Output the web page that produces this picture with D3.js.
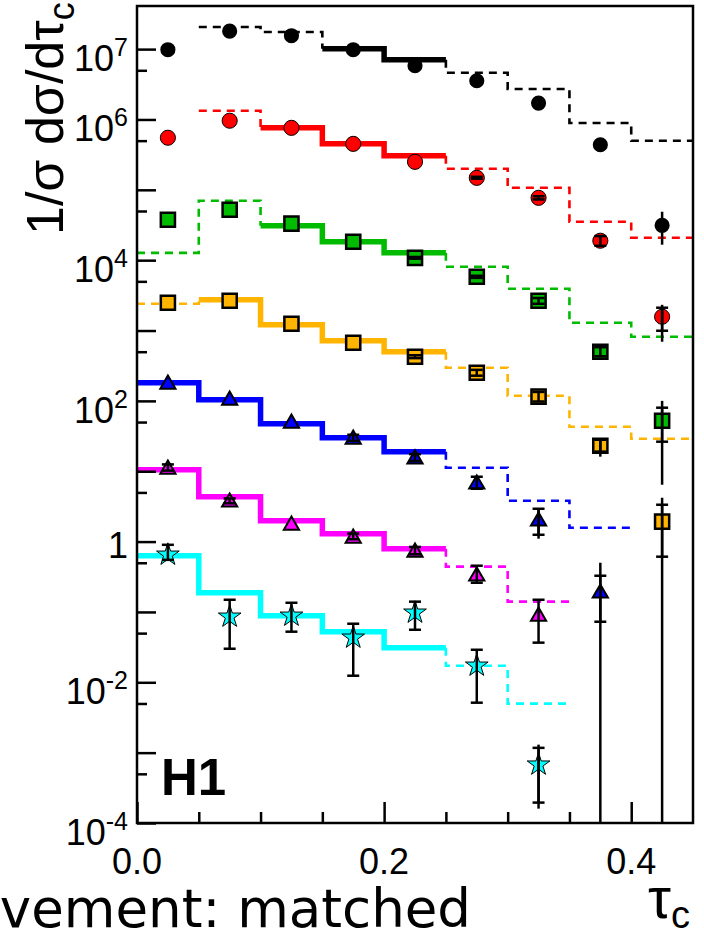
<!DOCTYPE html>
<html>
<head>
<meta charset="utf-8">
<script src="https://cdn.jsdelivr.net/npm/d3@7"></script>
<style>
  body { margin: 0; background: #fff; }
  svg { display: block; }
</style>
</head>
<body>
<svg id="chart" width="704" height="938"></svg>
<script>
// tau_c bins
const binEdges = [0, 0.05, 0.1, 0.15, 0.2, 0.25, 0.3, 0.35, 0.4, 0.45];
const binCenters = [0.025, 0.075, 0.125, 0.175, 0.225, 0.275, 0.325, 0.375, 0.425];

// measured points (already scaled per Q2 bin), prediction histograms, solid range
const blackPts  = [9.8e6, 1.8e7, 1.55e7, 9.8e6, 5.8e6, 3.55e6, 1.71e6, 4.37e5, 3.13e4];
const blackHist = [null, 2.06e7, 1.75e7, 1.01e7, 7.06e6, 4.61e6, 2.71e6, 8.89e5, 4.98e5];
const blackSolid = [3, 4];
const blackStat = [null, null, null, null, null, null, null, null, null];
const blackTot  = [null, null, null, null, null, null, null, null, [1.66e4, 4.88e4]];

const redPts  = [5.5e5, 9.6e5, 7.6e5, 4.5e5, 2.5e5, 1.48e5, 7.7e4, 1.89e4, 1.57e3];
const redHist = [null, 1.33e6, 7.62e5, 4.52e5, 3.05e5, 1.99e5, 1.07e5, 3.52e4, 2.08e4];
const redSolid = [2, 4];
const redStat = [null, null, null, null, null, [1.44e5, 1.53e5], [7.3e4, 8.1e4], [1.6e4, 2.2e4], [993, 2.11e3]];
const redTot  = [null, null, null, null, null, null, null, null, [693, 2.32e3]];

const greenPts  = [3.76e4, 5.2e4, 3.3e4, 1.83e4, 1.08e4, 5.81e3, 2.65e3, 499, 52.2];
const greenHist = [1.27e4, 7.0e4, 3.08e4, 1.83e4, 1.27e4, 8.06e3, 3.92e3, 1.29e3, 816];
const greenSolid = [2, 4];
const greenStat = [null, null, null, null, [1.05e4, 1.11e4], [5.6e3, 6.0e3], [2.4e3, 2.9e3], [430, 580], [26.3, 80]];
const greenTot  = [null, null, null, null, null, null, null, null, [6.43, 100]];

const orangePts  = [2.48e3, 2.65e3, 1.25e3, 670, 424, 251, 115, 23, 1.92];
const orangeHist = [2.4e3, 2.74e3, 1.21e3, 716, 499, 296, 118, 42.9, 29];
const orangeSolid = [1, 4];
const orangeStat = [null, null, null, null, [405, 445], [228, 276], [98, 134], [19, 28], [0.61, 3.34]];
const orangeTot  = [null, null, null, null, null, null, null, [16.1, 28], [1e-6, 4.2]];

const bluePts  = [181, 107, 50.5, 29.9, 15.6, 6.87, 2.05, 0.194, null];
const blueHist = [181, 104, 47.3, 29.9, 18.9, 11.2, 3.81, 1.57, null];
const blueSolid = [0, 4];
const blueStat = [null, null, null, [27, 33], [14, 17.5], [5.64, 8.35], [1.25, 2.93], [0.0726, 0.327], null];
const blueTot  = [null, null, null, null, null, null, [1.1, 2.93], [1e-6, 0.5], null];

const magentaPts  = [11.2, 3.81, 1.79, 1.17, 0.74, 0.338, 0.091, null, null];
const magentaHist = [10.5, 4.34, 1.98, 1.29, 0.79, 0.44, 0.14, null, null];
const magentaSolid = [0, 4];
const magentaStat = [[10.2, 12.5], [3.5, 4.1], null, [1.08, 1.3], [0.66, 0.84], [0.26, 0.454], [0.0366, 0.149], null, null];
const magentaTot  = [null, null, null, null, null, null, null, null, null];

const cyanPts  = [0.65, 0.0855, 0.0883, 0.043, 0.0975, 0.0172, 6.75e-4, null, null];
const cyanHist = [0.63, 0.1875, 0.0883, 0.0524, 0.031, 0.0172, 0.00497, null, null];
const cyanSolid = [0, 4];
const cyanStat = [[0.55, 0.9], [0.03, 0.149], [0.0524, 0.135], [0.0124, 0.068], [0.0558, 0.14], [0.00513, 0.029], [1.95e-4, 1.17e-3], null, null];
const cyanTot  = [null, null, null, null, null, null, [1.6e-4, 1.3e-3], null, null];

// axis ticks
const yMajor = [1e-4, 1e-3, 1e-2, 1e-1, 1, 10, 100, 1e3, 1e4, 1e5, 1e6, 1e7];
const yMinor = [5e-4, 5e-3, 5e-2, 5e-1, 5, 50, 500, 5e3, 5e4, 5e5, 5e6];
const yLabelExp = [7, 6, 4, 2, 0, -2, -4];
const xMajor = [0, 0.2, 0.4];
const xMinor = [0.05, 0.1, 0.15, 0.25, 0.3, 0.35];
const xLabels = ['0.0', '0.2', '0.4'];

const series = [
    {pts: blackPts, hist: blackHist, solid: blackSolid, stat: blackStat, tot: blackTot},
    {pts: redPts, hist: redHist, solid: redSolid, stat: redStat, tot: redTot},
    {pts: greenPts, hist: greenHist, solid: greenSolid, stat: greenStat, tot: greenTot},
    {pts: orangePts, hist: orangeHist, solid: orangeSolid, stat: orangeStat, tot: orangeTot},
    {pts: bluePts, hist: blueHist, solid: blueSolid, stat: blueStat, tot: blueTot},
    {pts: magentaPts, hist: magentaHist, solid: magentaSolid, stat: magentaStat, tot: magentaTot},
    {pts: cyanPts, hist: cyanHist, solid: cyanSolid, stat: cyanStat, tot: cyanTot},
];
const colors = ['#000000', '#ff0000', '#00bb00', '#ffb400', '#0000ff', '#ff00ff', '#00ffff'];
const shapes = [d3.symbolCircle, d3.symbolCircle, d3.symbolSquare, d3.symbolSquare,
                d3.symbolTriangle, d3.symbolTriangle, d3.symbolStar];
const sizes = [180, 180, 200, 200, 100, 100, 160];
const markerStroke = [0, 1, 2.5, 2.5, 2, 2, 1];

const svg = d3.select('svg#chart');
const font = "'Liberation Sans', Arial, Helvetica, sans-serif";

const x = d3.scaleLinear().domain([0, 0.45]).range([137, 693]);
const y = d3.scaleLog().domain([1e-4, 4.1e7]).range([823, 6]);

svg.append('defs').append('clipPath').attr('id', 'plotclip')
    .append('rect')
    .attr('x', x(0)).attr('y', y.range()[1])
    .attr('width', x(0.45) - x(0)).attr('height', y.range()[0] - y.range()[1]);

const plot = svg.append('g').attr('clip-path', 'url(#plotclip)');

// histograms: split in solid and dashed runs
const runs = (s) => {
    let out = [];
    let cur = null;
    s.hist.forEach((h, i) => {
        if (h === null) { cur = null; return; }
        let solid = i >= s.solid[0] && i <= s.solid[1];
        if (!cur || cur.solid !== solid) {
            cur = {solid: solid, bins: []};
            out.push(cur);
        }
        cur.bins.push(i);
    });
    return out;
};

const line = d3.line().x(d => x(d[0])).y(d => y(d[1]));

series.forEach((s, k) => {
    runs(s).forEach(r => {
        let pts = [];
        let first = r.bins[0], last = r.bins[r.bins.length - 1];
        // dashed runs carry the vertical connection to a neighbouring solid bin
        if (!r.solid && first > 0 && s.hist[first - 1] !== null) {
            pts.push([binEdges[first], s.hist[first - 1]]);
        }
        r.bins.forEach(i => {
            pts.push([binEdges[i], s.hist[i]]);
            pts.push([binEdges[i + 1], s.hist[i]]);
        });
        if (!r.solid && last + 1 < s.hist.length && s.hist[last + 1] !== null) {
            pts.push([binEdges[last + 1], s.hist[last + 1]]);
        }
        plot.append('path')
            .attr('d', line(pts))
            .attr('fill', 'none')
            .attr('stroke', colors[k])
            .attr('stroke-width', r.solid ? 5.5 : 2.6)
            .attr('stroke-dasharray', r.solid ? null : '8,6')
            .attr('stroke-linejoin', 'miter');
    });
});

// markers
series.forEach((s, k) => {
    plot.append('g').selectAll('path')
        .data(s.pts.map((v, i) => ({v: v, i: i})).filter(d => d.v !== null))
        .enter().append('path')
        .attr('transform', d => 'translate(' + x(binCenters[d.i]) + ',' + (y(d.v) + (k >= 4 && k <= 5 ? 1.5 : 0)) + ')')
        .attr('d', d3.symbol().type(shapes[k]).size(sizes[k]))
        .attr('fill', colors[k])
        .attr('stroke', '#000')
        .attr('stroke-width', markerStroke[k])
        .attr('stroke-linejoin', 'miter');
});

// error bars on top of markers
series.forEach((s, k) => {
    s.tot.forEach((e, i) => {
        if (!e) return;
        plot.append('line')
            .attr('x1', x(binCenters[i])).attr('x2', x(binCenters[i]))
            .attr('y1', y(Math.max(e[0], 1e-6))).attr('y2', y(e[1]))
            .attr('stroke', '#000').attr('stroke-width', 2.5);
    });
    s.stat.forEach((e, i) => {
        if (!e) return;
        let cx = x(binCenters[i]);
        let g = plot.append('g').attr('stroke', '#000').attr('stroke-width', 2.5);
        g.append('line').attr('x1', cx).attr('x2', cx).attr('y1', y(e[0])).attr('y2', y(e[1]));
        g.append('line').attr('x1', cx - 6).attr('x2', cx + 6).attr('y1', y(e[0])).attr('y2', y(e[0]));
        g.append('line').attr('x1', cx - 6).attr('x2', cx + 6).attr('y1', y(e[1])).attr('y2', y(e[1]));
    });
});

// axes
const yAxisMajor = svg.append('g').attr('transform', 'translate(' + x(0) + ',0)')
    .call(d3.axisLeft(y).tickValues(yMajor).tickSizeInner(-19).tickSizeOuter(0).tickFormat(''));
const yAxisMinor = svg.append('g').attr('transform', 'translate(' + x(0) + ',0)')
    .call(d3.axisLeft(y).tickValues(yMinor).tickSizeInner(-10).tickSizeOuter(0).tickFormat(''));
const xAxisMajor = svg.append('g').attr('transform', 'translate(0,' + y(1e-4) + ')')
    .call(d3.axisBottom(x).tickValues(xMajor).tickSizeInner(-21).tickSizeOuter(0).tickFormat(''));
const xAxisMinor = svg.append('g').attr('transform', 'translate(0,' + y(1e-4) + ')')
    .call(d3.axisBottom(x).tickValues(xMinor).tickSizeInner(-11).tickSizeOuter(0).tickFormat(''));
[yAxisMajor, yAxisMinor, xAxisMajor, xAxisMinor].forEach(a => {
    a.select('.domain').remove();
    a.selectAll('line').attr('stroke', '#000').attr('stroke-width', 2.5);
});

// frame
svg.append('rect')
    .attr('x', x(0)).attr('y', y.range()[1])
    .attr('width', x(0.45) - x(0)).attr('height', y.range()[0] - y.range()[1])
    .attr('fill', 'none').attr('stroke', '#000').attr('stroke-width', 2.5);

// y tick labels
yLabelExp.forEach(p => {
    let t = svg.append('text')
        .attr('x', 128)
        .attr('text-anchor', 'end')
        .attr('font-family', font)
        .attr('font-size', 36);
    if (p === 0) {
        t.attr('y', y(1) + 16).text('1');
    } else {
        t.attr('y', y(Math.pow(10, p)) + 22);
        t.append('tspan').text('10');
        t.append('tspan').attr('font-size', 25).attr('dy', -15).text(p);
    }
});

// x tick labels
xMajor.forEach((v, i) => {
    svg.append('text')
        .attr('x', x(v)).attr('y', 874)
        .attr('text-anchor', 'middle')
        .attr('font-family', font).attr('font-size', 36)
        .text(xLabels[i]);
});

// y title
const ytitle = svg.append('text')
    .attr('transform', 'translate(63,235) rotate(-90)')
    .attr('font-family', font).attr('font-size', 52);
ytitle.append('tspan').text('1/σ dσ/dτ');
ytitle.append('tspan').attr('font-size', 36).attr('dy', 11).text('c');

// x title
const xtitle = svg.append('text')
    .attr('x', 690).attr('y', 918)
    .attr('text-anchor', 'end')
    .attr('font-family', font).attr('font-size', 58);
xtitle.append('tspan').text('τ');
xtitle.append('tspan').attr('font-size', 38).attr('dy', 10).text('c');

// H1 label
svg.append('text')
    .attr('x', 161).attr('y', 795)
    .attr('font-family', font).attr('font-weight', 'bold').attr('font-size', 51)
    .text('H1');

// cut-off caption
svg.append('text')
    .attr('x', 471).attr('y', 927)
    .attr('text-anchor', 'end')
    .attr('font-family', "'DejaVu Sans', sans-serif").attr('font-size', 53)
    .text('vement: matched');
</script>
</body>
</html>
